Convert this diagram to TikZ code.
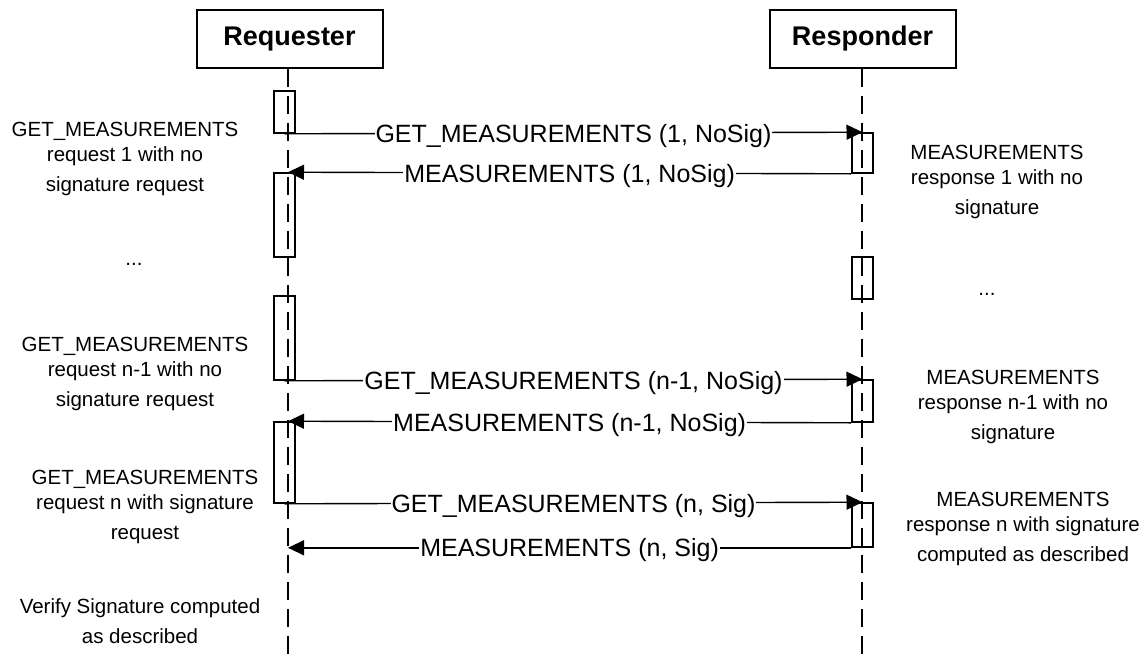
\documentclass[tikz,border=0pt]{standalone}
\usepackage{fontspec}
\setmainfont{Liberation Sans}
\usetikzlibrary{arrows.meta,calc}
\begin{document}
\begin{tikzpicture}[x=1pt,y=-1pt,
  actor/.style={draw, line width=2pt, minimum width=186pt, minimum height=58pt, inner sep=0pt, font=\fontsize{27}{32}\selectfont\bfseries},
  lifeline/.style={line width=2pt, dash pattern=on 18pt off 9pt},
  actbox/.style={draw, line width=1.6pt, minimum width=21pt, inner sep=0pt},
  msg/.style={line width=1.4pt, -{Triangle[length=16pt,width=15pt]}},
  msglabel/.style={fill=white, inner xsep=1pt, inner ysep=1pt, anchor=base, yshift=-9pt, font=\fontsize{25}{30}\selectfont},
  note/.style={align=center, anchor=north, inner sep=0pt, font=\fontsize{20.5}{25}\selectfont},
]
\useasboundingbox (0,0) rectangle (1144,662);

% actors
\node[actor] (req) at (289.5,39) {Requester};
\node[actor] (resp) at (862.5,39) {Responder};
\coordinate (rl) at (288,662);
\coordinate (sl) at (862,662);
\draw[lifeline] (req.south -| rl) -- (rl);
\draw[lifeline] (resp.south -| sl) -- (sl);

% activation boxes
\node[actbox, minimum height=42pt] (a1) at (284.5,112) {};
\node[actbox, minimum height=84pt] (a2) at (284.5,215) {};
\node[actbox, minimum height=84pt] (a3) at (284.5,338) {};
\node[actbox, minimum height=81pt] (a4) at (284.5,462.5) {};
\node[actbox, minimum height=40pt] (b1) at (862.5,153) {};
\node[actbox, minimum height=42pt] (b2) at (862.5,278) {};
\node[actbox, minimum height=42pt] (b3) at (862.5,401) {};
\node[actbox, minimum height=44pt] (b4) at (862.5,525) {};

% messages
\draw[msg] (a1.south) -- (b1.north) node[midway, msglabel] {GET\_MEASUREMENTS (1, NoSig)};
\draw[msg] (b1.south west) -- (a2.north -| rl) node[midway, msglabel] {MEASUREMENTS (1, NoSig)};
\draw[msg] (a3.south) -- (b3.north) node[midway, msglabel] {GET\_MEASUREMENTS (n-1, NoSig)};
\draw[msg] (b3.south west) -- (a4.north -| rl) node[midway, msglabel] {MEASUREMENTS (n-1, NoSig)};
\draw[msg] (a4.south) -- (b4.north) node[midway, msglabel] {GET\_MEASUREMENTS (n, Sig)};
\draw[msg] (b4.south west) -- (b4.south west -| rl) node[midway, msglabel] {MEASUREMENTS (n, Sig)};

% notes
\node[note] (n1) at (125,122) {GET\_MEASUREMENTS\\request 1 with no\\[5pt]signature request};
\node[note, anchor=base] (d1) at (134,265) {...};
\node[note] (n2) at (135,337) {GET\_MEASUREMENTS\\request n-1 with no\\[5pt]signature request};
\node[note] (n3) at (145,470) {GET\_MEASUREMENTS\\request n with signature\\[5pt]request};
\node[note] (n4) at (140,598) {Verify Signature computed\\[5pt]as described};
\node[note] (m1) at (997,145) {MEASUREMENTS\\response 1 with no\\[5pt]signature};
\node[note, anchor=base] (d2) at (987,295) {...};
\node[note] (m2) at (1013,370) {MEASUREMENTS\\response n-1 with no\\[5pt]signature};
\node[note] (m3) at (1023,492) {MEASUREMENTS\\response n with signature\\[5pt]computed as described};
\end{tikzpicture}
\end{document}
